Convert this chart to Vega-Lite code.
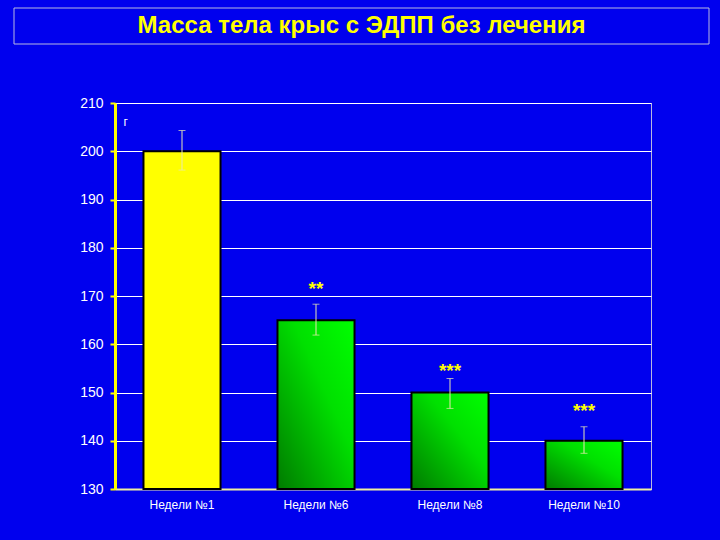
{
  "$schema": "https://vega.github.io/schema/vega-lite/v6.json",
  "background": "#0000EE",
  "padding": {"left": 13, "right": 11, "top": 7, "bottom": 14},
  "spacing": 50,
  "config": {
    "font": "Liberation Sans",
    "view": {"stroke": "#b8b8e0", "strokeWidth": 1}
  },
  "datasets": {
    "rats": [
      {"week": "Недели №1", "mass": 200, "lo": 196.1, "hi": 204.3, "star": "", "starY": 0},
      {"week": "Недели №6", "mass": 165, "lo": 161.9, "hi": 168.3, "star": "**", "starY": 171.4},
      {"week": "Недели №8", "mass": 150, "lo": 146.7, "hi": 152.9, "star": "***", "starY": 154.4},
      {"week": "Недели №10", "mass": 140, "lo": 137.4, "hi": 142.9, "star": "***", "starY": 146.1}
    ],
    "heading": [{"t": "Масса тела крыс с ЭДПП без лечения"}]
  },
  "vconcat": [
    {
      "width": 536,
      "height": 36,
      "view": {"stroke": null},
      "data": {"name": "heading"},
      "layer": [
        {
          "mark": {"type": "rect", "fill": null, "fillOpacity": 0, "stroke": "#b8b8e0", "strokeWidth": 1, "clip": false},
          "encoding": {
            "x": {"datum": 0, "type": "quantitative", "scale": {"domain": [0, 1], "range": [-101, 594]}, "axis": null},
            "x2": {"datum": 1},
            "y": {"datum": 0, "type": "quantitative", "scale": {"domain": [0, 1]}, "axis": null},
            "y2": {"datum": 1}
          }
        },
        {
          "mark": {"type": "text", "color": "#FFFF00", "fontSize": 24, "fontWeight": "bold", "font": "Liberation Sans", "clip": false},
          "encoding": {
            "x": {"datum": 0.5, "type": "quantitative"},
            "y": {"datum": 0.5, "type": "quantitative"},
            "text": {"field": "t"}
          }
        }
      ]
    },
    {
      "width": 536,
      "height": 386,
      "data": {"name": "rats"},
      "encoding": {
        "x": {
          "field": "week", "type": "nominal", "sort": null,
          "scale": {"paddingInner": 0.425, "paddingOuter": 0.2125},
          "axis": {
            "title": null, "labelAngle": 0, "labelColor": "white", "labelFontSize": 12,
            "labelPadding": 10, "ticks": false, "domainColor": "#f0f0a0", "domainWidth": 2,
            "minExtent": 40
          }
        }
      },
      "layer": [
        {
          "mark": {"type": "bar", "stroke": "black", "strokeWidth": 2},
          "encoding": {
            "y": {
              "field": "mass", "type": "quantitative",
              "scale": {"domain": [130, 210], "nice": false, "zero": false},
              "axis": {
                "values": [130, 140, 150, 160, 170, 180, 190, 200, 210],
                "labelColor": "white", "labelFontSize": 14, "labelPadding": 7,
                "tickColor": "#FFFF00", "tickSize": 5, "tickWidth": 2,
                "domainColor": "#FFFF00", "domainWidth": 3,
                "gridColor": "white", "gridWidth": 1, "gridOpacity": 1,
                "title": "г", "titleAngle": 0, "titleX": 8, "titleY": 18,
                "titleAlign": "left", "titleBaseline": "middle",
                "titleColor": "white", "titleFontSize": 12, "titleFontWeight": "normal",
                "minExtent": 101
              }
            },
            "y2": {"datum": 130},
            "fill": {
              "condition": {"test": "datum.week === 'Недели №1'", "value": "#FFFF00"},
              "value": {
                "gradient": "linear", "x1": 0, "y1": 1, "x2": 1, "y2": 0,
                "stops": [{"offset": 0, "color": "#007a00"}, {"offset": 0.6, "color": "#00e000"}, {"offset": 1, "color": "#00ff00"}]
              }
            }
          }
        },
        {
          "mark": {"type": "rule", "color": "#e8e8b0", "strokeWidth": 1},
          "encoding": {"y": {"field": "lo", "type": "quantitative"}, "y2": {"field": "hi"}}
        },
        {
          "mark": {"type": "tick", "color": "#e8e8b0", "thickness": 1, "size": 7},
          "encoding": {"y": {"field": "hi", "type": "quantitative"}}
        },
        {
          "mark": {"type": "tick", "color": "#e8e8b0", "thickness": 1, "size": 7},
          "encoding": {"y": {"field": "lo", "type": "quantitative"}}
        },
        {
          "mark": {"type": "text", "color": "#FFFF00", "fontSize": 19, "fontWeight": "bold", "baseline": "middle"},
          "encoding": {
            "y": {"field": "starY", "type": "quantitative"},
            "text": {"field": "star"}
          }
        }
      ]
    }
  ]
}
